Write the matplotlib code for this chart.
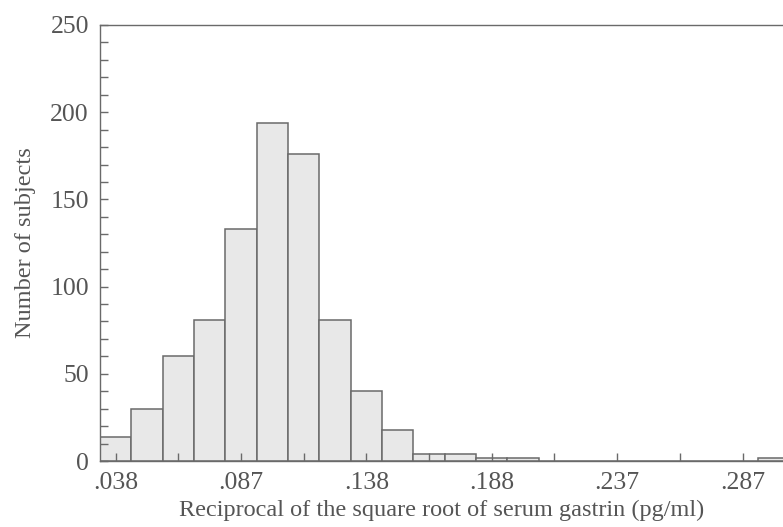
import matplotlib
matplotlib.use("Agg")
import matplotlib.pyplot as plt
from matplotlib.ticker import FixedLocator, MultipleLocator
import numpy as np

# Histogram counts per bin (equal-width bins, left to right)
counts = [14, 30, 60, 81, 133, 194, 176, 81, 40, 18, 4, 4, 2, 2,
          0, 0, 0, 0, 0, 0, 0, 2]
bin_start = 0.0316      # left edge of the first bin
bin_width = 0.01245     # width of every bin
tick_labels = [".038", ".087", ".138", ".188", ".237", ".287"]

text_col = "#555555"
line_col = "#6a6a6a"

plt.rcParams["font.family"] = ["Liberation Serif", "DejaVu Serif"]

fig = plt.figure(figsize=(7.83, 5.27), dpi=100)
ax = fig.add_axes([0.1277, 0.1252, 0.8723, 0.8274])

n = len(counts)
lefts = bin_start + bin_width * np.arange(n)
ax.bar(lefts, counts, width=bin_width, align="edge",
       color="#e8e8e8", edgecolor=line_col, linewidth=1.1)

centers = lefts + bin_width / 2
major_pos = centers[0:4 * len(tick_labels):4]
minor_pos = centers[0:n:2]

ax.set_xlim(bin_start, bin_start + bin_width * 21.79)
ax.set_ylim(0, 250)

ax.xaxis.set_major_locator(FixedLocator(major_pos))
ax.xaxis.set_minor_locator(FixedLocator(minor_pos))
ax.set_xticklabels(tick_labels)
ax.yaxis.set_major_locator(MultipleLocator(50))
ax.yaxis.set_minor_locator(MultipleLocator(10))

ax.tick_params(which="both", direction="in", length=6, width=1.0,
               color=line_col, top=False, right=False)
ax.tick_params(axis="x", which="major", labelsize=18.5,
               labelcolor=text_col, pad=8)
ax.tick_params(axis="y", which="major", labelsize=18.5,
               labelcolor=text_col, pad=8)

for side in ("left", "bottom", "top"):
    ax.spines[side].set_color(line_col)
    ax.spines[side].set_linewidth(1.0)
ax.spines["right"].set_visible(False)

ax.set_xlabel("Reciprocal of the square root of serum gastrin (pg/ml)",
              fontsize=17.5, color=text_col, labelpad=4)
ax.set_ylabel("Number of subjects", fontsize=17.5, color=text_col,
              labelpad=10)

fig.savefig("out.png", dpi=100)
